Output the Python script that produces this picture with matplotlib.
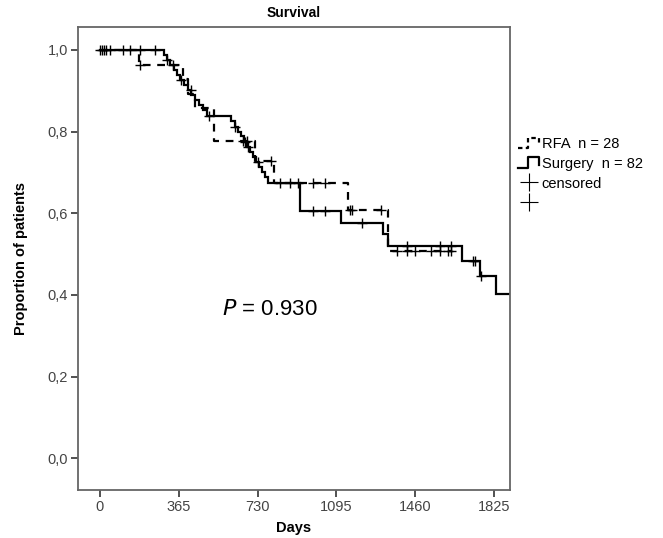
# Kaplan-Meier style survival plot: RFA vs Surgery, step curves with censor marks.

import numpy as np
import matplotlib
matplotlib.use("Agg")
import matplotlib.pyplot as plt
from matplotlib.lines import Line2D
from matplotlib.legend_handler import HandlerBase

plt.rcParams["font.family"] = ["Liberation Sans", "DejaVu Sans"]

# Surgery (solid): event days and survival level after each event
SURG_DAYS = [296, 310, 324, 343, 357, 371, 389, 408, 421, 440, 459, 477, 496,
             607, 625, 639, 653, 667, 681, 695, 709, 723, 736, 750, 764, 778,
             926, 1116, 1311, 1334, 1677, 1760, 1834]
SURG_SURV = [0.988, 0.976, 0.963, 0.951, 0.939, 0.927, 0.914, 0.902, 0.890,
             0.878, 0.866, 0.853, 0.837, 0.825, 0.812, 0.800, 0.788, 0.775,
             0.763, 0.750, 0.738, 0.725, 0.712, 0.700, 0.688, 0.675, 0.605,
             0.577, 0.548, 0.520, 0.484, 0.446, 0.401]
SURG_END = 1910
SURG_CENSOR = [0, 9, 19, 28, 46, 107, 139, 185, 255, 311, 340, 375,
               420, 505, 625, 670, 685, 732, 833, 880, 917, 987, 1042, 1213,
               1422, 1575, 1626, 1728, 1737, 1765]

# RFA (dashed)
RFA_DAYS = [180, 384, 408, 440, 528, 718, 806, 1149, 1334]
RFA_SURV = [0.964, 0.929, 0.893, 0.857, 0.778, 0.728, 0.675, 0.608, 0.507]
RFA_END = 1626
RFA_CENSOR = [185, 662, 681, 792, 987, 1042, 1158, 1167, 1301, 1376, 1422,
              1459, 1533, 1575, 1612, 1626]

X_TICKS = [0, 365, 730, 1095, 1460, 1825]
Y_TICKS = [0.0, 0.2, 0.4, 0.6, 0.8, 1.0]
Y_TICK_LABELS = ["0,0", "0,2", "0,4", "0,6", "0,8", "1,0"]
LEGEND_LABELS = ["RFA  n = 28", "Surgery  n = 82", "censored", ""]
P_TEXT = "0.930"


def step_xy(days, surv, end):
    xs = [0] + list(days) + [end]
    ys = [1.0] + list(surv) + [surv[-1]]
    return xs, ys


def level_at(days, surv, t):
    s = 1.0
    for d, v in zip(days, surv):
        if d <= t:
            s = v
    return s


class StepHandler(HandlerBase):
    def __init__(self, ls):
        super().__init__()
        self.ls = ls

    def create_artists(self, legend, orig, xd, yd, w, h, fs, trans):
        xs = [xd, xd + w * 0.45, xd + w * 0.45, xd + w, xd + w]
        ys = [yd, yd, yd + h * 1.0, yd + h * 1.0, yd + h * 0.3]
        ln = Line2D(xs, ys, color="black", lw=1.6, linestyle=self.ls,
                    transform=trans)
        return [ln]


fig = plt.figure(figsize=(6.63, 5.38), dpi=100)
ax = fig.add_axes([0.1176, 0.0892, 0.6516, 0.8606])

xs, ys = step_xy(SURG_DAYS, SURG_SURV, SURG_END)
ax.step(xs, ys, where="post", color="black", lw=1.6, solid_joinstyle="miter")
cy = [level_at(SURG_DAYS, SURG_SURV, t) for t in SURG_CENSOR]
ax.plot(SURG_CENSOR, cy, "+", color="black", ms=7, mew=1.0)

xs, ys = step_xy(RFA_DAYS, RFA_SURV, RFA_END)
ax.step(xs, ys, where="post", color="black", lw=1.6, linestyle=(0, (3.5, 3)))
cy = [level_at(RFA_DAYS, RFA_SURV, t) for t in RFA_CENSOR]
ax.plot(RFA_CENSOR, cy, "+", color="black", ms=7, mew=1.0)

ax.set_xlim(-102, 1899)
ax.set_ylim(-0.078, 1.056)
ax.set_xticks(X_TICKS)
ax.set_yticks(Y_TICKS)
ax.set_yticklabels(Y_TICK_LABELS)
ax.tick_params(labelsize=10.5, labelcolor="#444444", length=5, width=1.2,
               color="#333333", pad=2)
for sp in ax.spines.values():
    sp.set_color("#666666")
    sp.set_linewidth(1.3)

ax.set_xlabel("Days", fontsize=10.5, fontweight="bold", labelpad=5)
ax.set_ylabel("Proportion of patients", fontsize=10.5, fontweight="bold",
              labelpad=14)
ax.set_title("Survival", fontsize=10, fontweight="bold", pad=7)

ax.text(565, 0.363, r"$\it{P}$ = " + P_TEXT, fontsize=16, va="center")

h_rfa = Line2D([], [])
h_surg = Line2D([], [])
h_c1 = Line2D([], [], marker="+", color="black", ls="none", ms=13, mew=0.8)
h_c2 = Line2D([], [], marker="+", color="black", ls="none", ms=13, mew=0.8)
leg = fig.legend([h_rfa, h_surg, h_c1, h_c2], LEGEND_LABELS,
                 loc="upper left", bbox_to_anchor=(0.762, 0.77),
                 frameon=False, fontsize=10.5, handlelength=1.4,
                 handletextpad=0.2, labelspacing=0.4,
                 handler_map={h_rfa: StepHandler((0, (2, 1.5))),
                              h_surg: StepHandler("-")})

plt.savefig("out.png", dpi=100)
plt.close()
